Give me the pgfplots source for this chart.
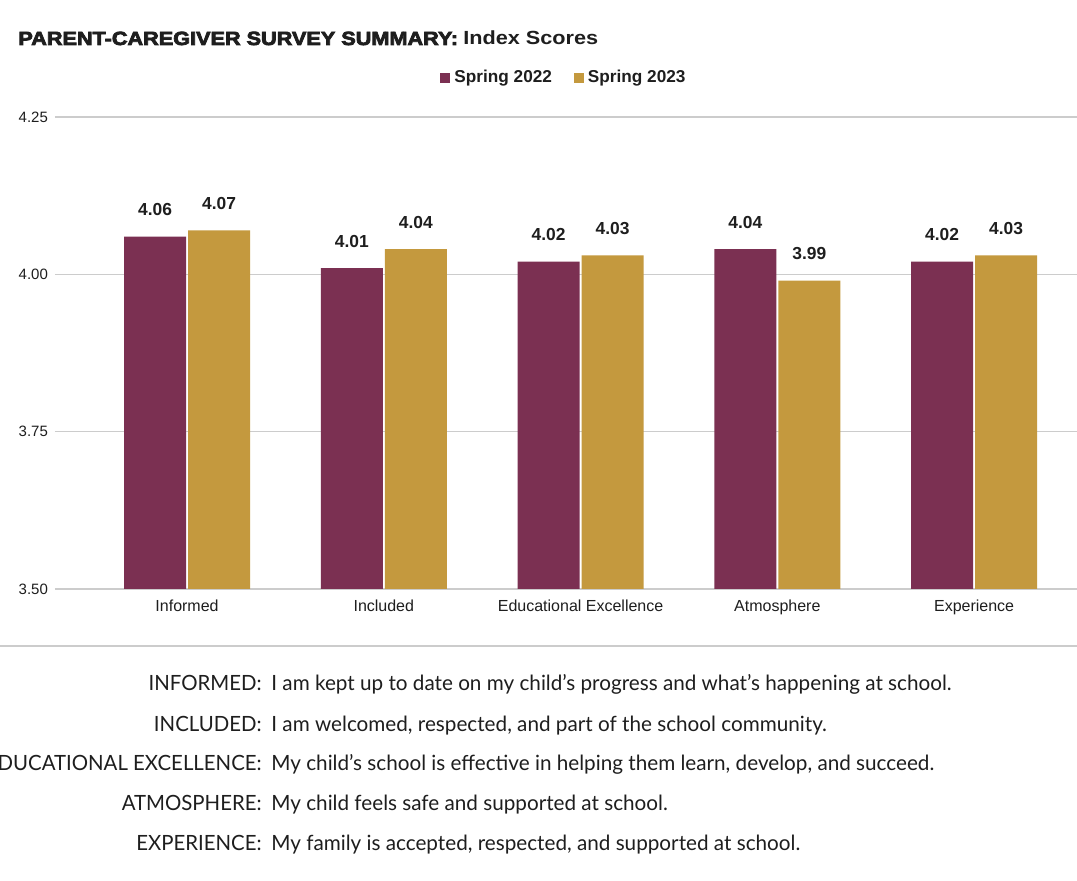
\documentclass[border=0pt]{standalone}
\usepackage{fontspec}
\setmainfont{Liberation Sans}
\newfontfamily\lato[FakeStretch=0.97]{Lato}
\newfontfamily\latodesc[FakeStretch=0.985]{Lato}
\newfontfamily\heavy[FakeBold=4,FakeStretch=1.14]{Liberation Sans Bold}
\newfontfamily\titlebold[FakeStretch=1.14]{Liberation Sans Bold}
\usepackage{pgfplots}
\pgfplotsset{compat=1.18}
\definecolor{plum}{RGB}{123,48,82}
\definecolor{gold}{RGB}{196,153,62}
\definecolor{txt}{RGB}{30,30,30}

\begin{document}
\begin{tikzpicture}[x=0.5pt,y=0.5pt]
\path[use as bounding box, fill=white] (0,0) rectangle (1077,881);

% title
\node[anchor=base west, inner sep=0, text=txt] at (18,836)
  {\fontsize{9.5}{12}\selectfont{\heavy PARENT-CAREGIVER SURVEY SUMMARY:} {\titlebold Index Scores}};

\begin{axis}[
  at={(27.5pt,146pt)}, anchor=south west,
  scale only axis, width=511pt, height=236pt,
  ybar, bar width=31pt,
  ymin=3.5, ymax=4.25, xmin=-0.671, xmax=4.523,
  ytick={3.5,3.75,4,4.25},
  yticklabel style={/pgf/number format/fixed, /pgf/number format/fixed zerofill, /pgf/number format/precision=2},
  xtick=data,
  xticklabels={Informed, Included, Educational Excellence, Atmosphere, Experience},
  xticklabel style={yshift=-2pt, font=\fontsize{8}{9}\selectfont},
  yticklabel style={font=\fontsize{7.5}{9}\selectfont},
  ticklabel style={text=txt},
  /pgf/number format/assume math mode=true,
  axis line style={draw=none},
  major tick length=0pt,
  ymajorgrids, grid style={black!20, line width=0.6pt},
  nodes near coords,
  nodes near coords style={font=\fontsize{8.7}{9}\selectfont\bfseries, text=txt,
    /pgf/number format/fixed, /pgf/number format/fixed zerofill, /pgf/number format/precision=2},
  every node near coord/.append style={anchor=base, inner sep=0pt, yshift=10.5pt},
  legend style={at={(0.499,1.083)}, anchor=center, draw=none, fill=none,
    legend columns=2, font=\fontsize{8.6}{9}\selectfont\bfseries, text=txt,
    /tikz/every even column/.append style={column sep=9pt}},
  legend image code/.code={\path[#1] (-3pt,-2.5pt) rectangle (2pt,2.5pt);},
]
\addplot[fill=plum, draw=none, bar shift=-16pt] coordinates {
(0,4.06) (1,4.01) (2,4.02) (3,4.04) (4,4.02)};
\addlegendentry{Spring 2022}
\addplot[fill=gold, draw=none, bar shift=16pt] coordinates {
(0,4.07) (1,4.04) (2,4.03) (3,3.99) (4,4.03)};
\addlegendentry{Spring 2023}
\end{axis}

% separator
\draw[black!20, line width=0.8pt] (0,235) -- (1077,235);

% definitions
\begin{scope}[every node/.style={inner sep=0, text=txt, font=\lato\fontsize{10.5}{12}\selectfont}]
\node[anchor=base east] at (262,190) {INFORMED:};
\node[anchor=base west, font=\latodesc\fontsize{10.5}{12}\selectfont] at (271,190) {I am kept up to date on my child’s progress and what’s happening at school.};
\node[anchor=base east] at (262,149.5) {INCLUDED:};
\node[anchor=base west, font=\latodesc\fontsize{10.5}{12}\selectfont] at (271,149.5) {I am welcomed, respected, and part of the school community.};
\node[anchor=base east] at (262,110) {EDUCATIONAL EXCELLENCE:};
\node[anchor=base west, font=\latodesc\fontsize{10.5}{12}\selectfont] at (271,110) {My child’s school is effective in helping them learn, develop, and succeed.};
\node[anchor=base east] at (262,70) {ATMOSPHERE:};
\node[anchor=base west, font=\latodesc\fontsize{10.5}{12}\selectfont] at (271,70) {My child feels safe and supported at school.};
\node[anchor=base east] at (262,30) {EXPERIENCE:};
\node[anchor=base west, font=\latodesc\fontsize{10.5}{12}\selectfont] at (271,30) {My family is accepted, respected, and supported at school.};
\end{scope}
\end{tikzpicture}
\end{document}
